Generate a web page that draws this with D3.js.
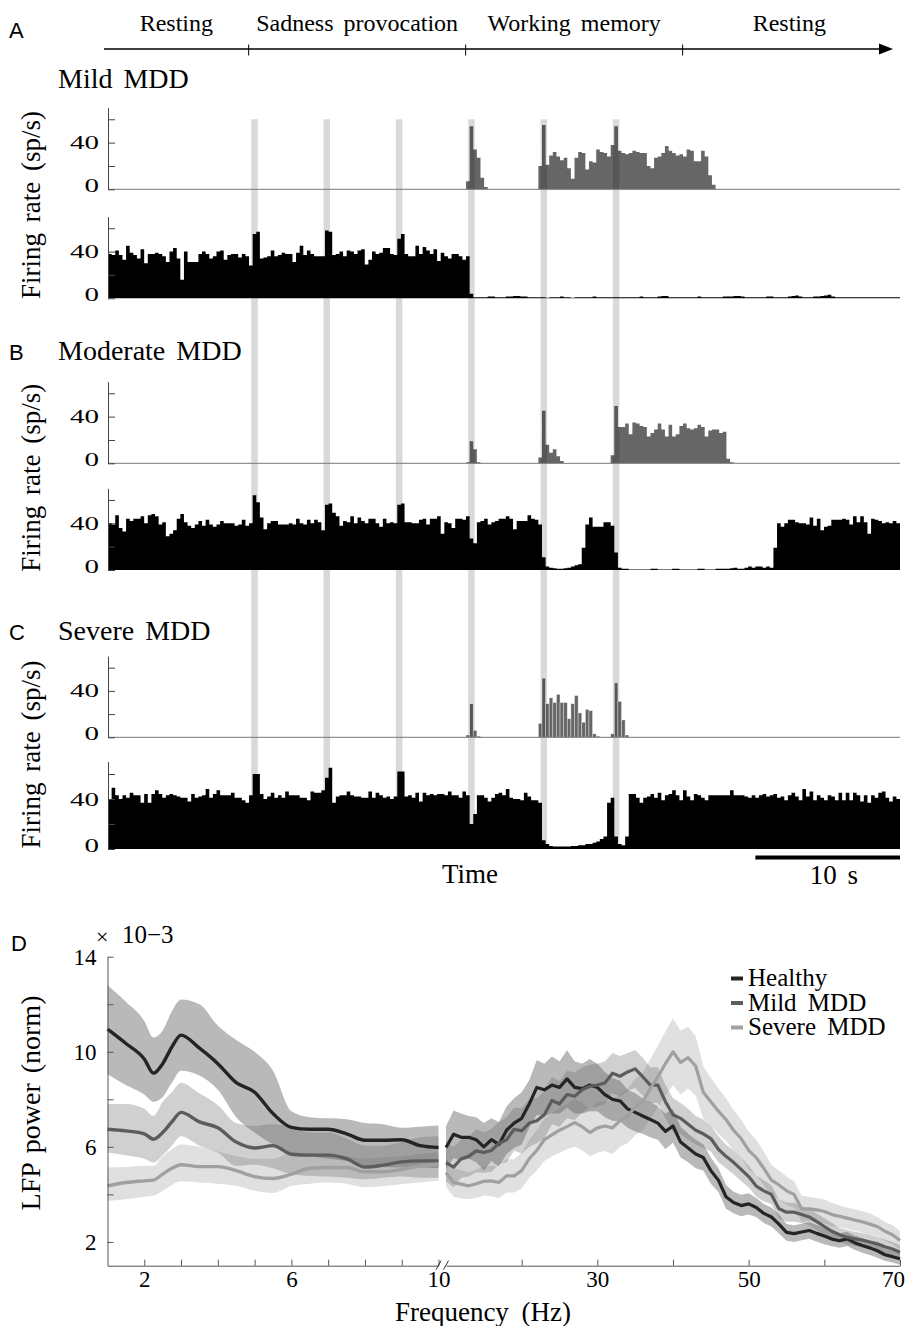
<!DOCTYPE html>
<html>
<head>
<meta charset="utf-8">
<script src="https://cdn.jsdelivr.net/npm/d3@7"></script>
<style>
html,body{margin:0;padding:0;background:#fff;}
svg{display:block;}
text{font-family:"Liberation Serif","Times New Roman",serif;fill:#000;}
</style>
</head>
<body>
<svg id="fig" width="906" height="1326"></svg>
<script>
// ---------------- firing-rate data (0.25 s bins) ----------------
const binWidth = 0.25;
const recordingEnd = 54.75;
const stimulusTimes = [10, 15, 20, 25, 30, 35];
const phaseNames = ["Resting", "Sadness provocation", "Working memory", "Resting"];
const phaseBounds = [0, 10, 25, 40, 54.75];
const panelTitles = ["Mild MDD", "Moderate MDD", "Severe MDD"];
const rateTicks = [0, 20, 40, 60];
const rateLabels = [0, 40];

const mildTaskRate = [
  0,0,0,0,0,0,0,0,0,0,0,0,0,0,0,0,0,0,0,0,
  0,0,0,0,0,0,0,0,0,0,0,0,0,0,0,0,0,0,0,0,
  0,0,0,0,0,0,0,0,0,0,0,0,0,0,0,0,0,0,0,0,
  0,0,0,0,0,0,0,0,0,0,0,0,0,0,0,0,0,0,0,0,
  0,0,0,0,0,0,0,0,0,0,0,0,0,0,0,0,0,0,0,7,
  54,34,27,10,2,0,0,0,0,0,0,0,0,0,0,0,0,0,0,20,
  55,21,29,32,28,25,27,18,9,27,32,31,17,24,23,34,32,31,28,38,
  54,33,31,30,31,33,32,31,31,20,18,27,28,31,37,33,31,29,30,28,
  34,33,24,24,33,28,12,4,0,0,0,0,0,0,0,0,0,0,0,0,
  0,0,0,0,0,0,0,0,0,0,0,0,0,0,0,0,0,0,0,0,
  0,0,0,0,0,0,0,0,0,0,0,0,0,0,0,0,0,0,0
];
const mildRestRate = [
  38,37,41,37,33,45,39,37,34,42,30,38,38,39,38,36,31,40,43,34,
  16,40,31,31,31,38,40,38,34,36,40,41,33,37,38,38,35,38,36,28,
  55,57,34,35,36,41,36,37,39,38,38,31,39,45,37,41,38,36,36,36,
  58,57,37,38,40,36,41,40,38,41,42,29,33,40,38,39,43,43,38,37,
  51,55,38,36,36,45,38,44,41,38,42,32,39,36,34,38,38,36,33,36,
  4,1,1,1,1,1.5,1.5,1,1,1,1.5,1.5,2,2,1.5,1.5,1,1,1,1,
  1,0.5,1,1,1,1.5,1,1,0.5,1,1,1,1,1,1.5,1,1,1,1,1,
  1,1,1,1,1,1,1,1.5,1,1,1,1,1.5,2,2,1,1,1,1,1,
  1,1,1,1.5,1,1,1,1,1,1,1.5,1.5,1.5,2,2,1.5,1,1,1,1,
  1,1,1.5,1.5,1,1,1,1,1.5,2,2.5,1.5,1,1,1,1.5,1.5,2,2.5,3,
  1.5,1,1,1,1,1,1,1,1,1,1,1,1,1,1,1,1,1,1
];
const moderateTaskRate = [
  0,0,0,0,0,0,0,0,0,0,0,0,0,0,0,0,0,0,0,0,
  0,0,0,0,0,0,0,0,0,0,0,0,0,0,0,0,0,0,0,0,
  0,0,0,0,0,0,0,0,0,0,0,0,0,0,0,0,0,0,0,0,
  0,0,0,0,0,0,0,0,0,0,0,0,0,0,0,0,0,0,0,0,
  0,0,0,0,0,0,0,0,0,0,0,0,0,0,0,0,0,0,0,1,
  19,12,1,0,0,0,0,0,0,0,0,0,0,0,0,0,0,0,0,5,
  45,16,9,12,6,2,0,0,0,0,0,0,0,0,0,0,0,0,0,7,
  49,31,31,34,25,35,34,32,31,23,26,29,34,29,23,33,23,25,32,34,
  30,29,30,33,31,23,28,29,29,26,27,4,1,0,0,0,0,0,0,0,
  0,0,0,0,0,0,0,0,0,0,0,0,0,0,0,0,0,0,0,0,
  0,0,0,0,0,0,0,0,0,0,0,0,0,0,0,0,0,0,0
];
const moderateRestRate = [
  40,39,47,36,33,44,42,44,44,46,40,47,48,46,39,41,29,31,34,44,
  48,41,38,36,39,42,38,43,39,37,39,42,40,40,40,38,39,43,38,40,
  64,58,45,35,40,42,42,39,39,39,40,39,44,40,39,43,40,43,41,34,
  56,57,49,46,38,42,41,46,40,45,42,40,44,44,40,37,44,40,41,40,
  56,57,41,41,40,40,43,44,39,44,44,46,31,41,40,36,44,44,43,46,
  27,23,41,42,44,39,41,42,44,44,46,44,35,42,42,42,47,44,43,39,
  11,3,2,1.5,1,1,1.5,2,3,4,5,19,39,45,37,37,37,41,41,38,
  15,2,1,1,0.5,0.5,0.5,0.5,0.5,0.5,1,1,0.5,0.5,0.5,0.5,1,1,0.5,0.5,
  0.5,0.5,0.5,1,1,0.5,0.5,0.5,1,1,1,1,1.5,2,1,1,2,3,2,3,
  3,2,3,2,19,40,37,40,43,43,41,40,40,39,45,38,44,34,37,38,
  43,43,43,44,43,39,46,41,46,41,31,44,43,42,40,41,40,42,40
];
const severeTaskRate = [
  0,0,0,0,0,0,0,0,0,0,0,0,0,0,0,0,0,0,0,0,
  0,0,0,0,0,0,0,0,0,0,0,0,0,0,0,0,0,0,0,0,
  0,0,0,0,0,0,0,0,0,0,0,0,0,0,0,0,0,0,0,0,
  0,0,0,0,0,0,0,0,0,0,0,0,0,0,0,0,0,0,0,0,
  0,0,0,0,0,0,0,0,0,0,0,0,0,0,0,0,0,0,0,2,
  29,6,1,0,0,0,0,0,0,0,0,0,0,0,0,0,0,0,0,12,
  51,29,34,30,37,30,30,16,29,36,21,13,24,23,3,1,0,0,0,3,
  47,31,15,2,0,0,0,0,0,0,0,0,0,0,0,0,0,0,0,0,
  0,0,0,0,0,0,0,0,0,0,0,0,0,0,0,0,0,0,0,0,
  0,0,0,0,0,0,0,0,0,0,0,0,0,0,0,0,0,0,0,0,
  0,0,0,0,0,0,0,0,0,0,0,0,0,0,0,0,0,0,0
];
const severeRestRate = [
  40,49,43,40,43,41,45,43,43,37,44,37,44,47,44,41,43,44,43,42,
  41,41,38,44,41,42,43,48,41,44,47,43,43,43,45,41,41,39,37,43,
  60,60,44,40,42,45,41,43,41,46,43,43,43,41,41,39,46,45,45,47,
  57,65,37,42,43,43,46,43,42,42,41,41,46,41,45,43,41,42,40,42,
  62,62,42,43,41,45,38,45,43,44,43,44,44,43,46,43,43,41,46,43,
  20,28,43,43,41,38,41,44,45,43,48,41,40,40,39,45,42,39,39,37,
  7,4,2.5,2,2,2,2,2,2.5,2.5,3,3,4,4,5,6,8,10,37,41,
  10,4,3,10,44,44,41,37,41,42,44,41,45,39,43,44,47,43,39,47,
  42,39,44,43,41,39,43,43,43,43,43,43,47,43,43,43,42,41,43,41,
  43,44,42,43,44,41,42,39,43,45,42,39,48,42,46,39,43,41,39,43,
  42,39,45,39,45,39,45,43,38,43,37,43,41,45,46,41,38,42,40
];

// ---------------- LFP spectra (x 10^-3) ----------------
const groupNames = ["Healthy", "Mild MDD", "Severe MDD"];
const freqLow = [1,1.5,2,2.25,2.5,2.75,3,3.5,4,4.5,5,5.5,6,6.5,7,7.5,8,8.5,9,9.5,10];
const healthyLowMean  = [10.95,10.35,9.7,9.1,9.5,10.2,10.7,10.15,9.5,8.7,8.3,7.4,6.82,6.74,6.74,6.55,6.28,6.28,6.3,6.05,5.97];
const healthyLowUpper = [12.8,12.1,11.3,10.6,10.9,11.7,12.2,12.0,11.1,10.5,10.0,9.2,7.5,7.25,7.2,7.16,7.0,6.95,6.8,6.85,6.9];
const healthyLowLower = [9.05,8.6,8.2,7.9,8.1,8.7,9.2,9.0,8.4,7.25,6.6,6.1,5.75,5.6,5.5,5.4,5.2,5.15,5.13,5.13,5.1];
const mildLowMean  = [6.74,6.67,6.55,6.32,6.6,7.05,7.45,7.05,6.8,6.2,5.95,6.05,5.69,5.65,5.65,5.5,5.15,5.23,5.37,5.41,5.41];
const mildLowUpper = [7.8,7.8,7.6,7.3,7.9,8.3,8.7,8.25,7.75,7.0,6.88,6.95,6.85,6.6,6.6,6.35,6.05,6.05,6.2,6.4,6.45];
const mildLowLower = [5.76,5.65,5.5,5.34,5.65,6.05,6.45,6.05,5.76,5.2,5.25,5.1,4.85,4.78,4.75,4.7,4.64,4.7,4.75,4.7,4.7];
const severeLowMean  = [4.36,4.5,4.57,4.6,4.85,5.1,5.25,5.17,5.17,5.0,4.75,4.67,4.85,5.1,5.13,5.13,4.95,4.95,5.05,5.2,5.27];
const severeLowUpper = [5.13,5.15,5.2,5.2,5.6,5.9,6.1,6.0,5.8,5.62,5.5,5.5,5.75,5.72,5.69,5.6,5.5,5.55,5.6,5.7,5.76];
const severeLowLower = [3.73,3.8,3.9,3.94,4.15,4.4,4.55,4.5,4.45,4.36,4.15,4.06,4.35,4.45,4.5,4.45,4.3,4.35,4.43,4.5,4.57];

const freqHigh = [10,11,12,13,14,15,16,17,18,19,20,21,22,23,24,25,26,27,28,29,30,31,32,33,34,35,36,37,38,39,40,
  41,42,43,44,45,46,47,48,49,50,51,52,53,54,55,56,57,58,59,60,61,62,63,64,65,66,67,68,69,70];
const healthyHighMean = [5.97,6.53,6.4,6.4,6.3,6.0,6.3,6.1,6.7,7.0,
  7.2,7.8,8.5,8.4,8.6,8.5,8.86,8.5,8.45,8.6,
  8.5,8.2,8.0,7.93,7.6,7.45,7.3,7.15,7.0,6.65,
  6.88,6.2,5.95,5.7,5.55,5.0,4.6,3.9,3.66,3.53,
  3.6,3.45,3.2,3.05,2.75,2.4,2.35,2.42,2.48,2.36,
  2.25,2.12,2.05,2.13,1.97,1.85,1.75,1.63,1.46,1.38,1.29];
const healthyHighSpread = [0.9,1.0,1.0,0.9,0.95,1.0,0.9,0.95,1.0,1.05,
  1.1,1.0,1.15,1.1,1.2,1.1,1.2,1.1,1.05,1.1,
  1.0,0.95,0.9,0.85,0.8,0.8,0.75,0.75,0.7,0.75,
  0.7,0.65,0.6,0.6,0.55,0.55,0.5,0.5,0.45,0.45,
  0.45,0.4,0.4,0.4,0.4,0.35,0.35,0.35,0.35,0.35,
  0.35,0.3,0.3,0.3,0.3,0.3,0.3,0.3,0.25,0.25,0.25];
const mildHighMean = [5.34,5.15,5.5,5.6,5.83,5.76,5.85,6.15,6.3,6.74,
  6.67,7.0,7.1,7.35,7.95,7.8,8.2,8.13,8.4,8.55,
  8.6,8.69,9.1,8.97,9.15,9.28,8.95,8.6,8.6,7.9,
  7.35,7.2,6.95,6.7,6.55,6.35,5.9,5.6,5.35,5.05,
  4.75,4.35,4.15,4.0,3.4,3.25,3.25,3.15,3.05,2.85,
  2.65,2.45,2.3,2.2,2.13,2.08,2.0,1.92,1.8,1.7,1.57];
const mildHighSpread = [0.8,0.85,0.8,0.85,0.9,0.85,0.9,0.9,0.95,0.9,
  0.95,1.0,0.95,1.0,1.0,0.95,1.0,1.0,0.95,0.9,
  0.9,0.9,0.85,0.85,0.8,0.8,0.8,0.75,0.75,0.7,
  0.7,0.65,0.65,0.6,0.6,0.55,0.55,0.5,0.5,0.5,
  0.45,0.45,0.45,0.4,0.4,0.4,0.4,0.35,0.35,0.35,
  0.35,0.35,0.3,0.3,0.3,0.3,0.3,0.3,0.3,0.3,0.3];
const severeHighMean = [4.92,4.5,4.43,4.36,4.45,4.55,4.57,4.5,4.78,4.78,
  5.0,5.5,5.85,6.3,6.5,6.7,6.85,7.02,6.85,6.6,
  6.8,6.88,6.8,7.1,7.3,7.68,7.9,8.45,8.95,9.5,
  10.0,9.55,9.75,9.4,8.3,7.9,7.5,7.15,6.7,6.35,
  5.85,5.55,5.1,4.6,4.4,4.15,4.0,3.4,3.39,3.35,
  3.28,3.15,3.08,3.0,2.92,2.85,2.75,2.65,2.45,2.3,2.06];
const severeHighSpread = [0.6,0.6,0.6,0.55,0.6,0.6,0.65,0.65,0.7,0.7,
  0.75,0.8,0.85,0.9,0.9,0.95,0.95,1.0,1.0,1.0,
  1.05,1.05,1.1,1.1,1.15,1.2,1.2,1.25,1.3,1.35,
  1.4,1.35,1.3,1.25,1.1,1.0,0.95,0.9,0.85,0.8,
  0.8,0.75,0.7,0.65,0.6,0.6,0.55,0.55,0.5,0.5,
  0.5,0.5,0.45,0.45,0.45,0.45,0.45,0.4,0.4,0.4,0.4];
const powerTicks = [2, 4, 6, 8, 10, 12, 14];
const powerLabels = [2, 6, 10, 14];
const freqLowTicks = [2, 3, 4, 5, 6, 7, 8, 9, 10];
const freqLowLabels = [2, 6, 10];
const freqHighTicks = [20, 30, 40, 50, 60, 70];
const freqHighLabels = [30, 50, 70];

// ---------------- drawing ----------------
const SERIF = "'Liberation Serif', 'Times New Roman', serif";
const SANS = "'Liberation Sans', Arial, sans-serif";
const svg = d3.select("#fig");

// time axis shared by the three raster panels
const x = d3.scaleLinear().domain([0, recordingEnd]).range([108, 900]);
const xPhase = d3.scaleLinear().domain([0, recordingEnd]).range([104, 896]);

// task-phase timeline arrow
const tl = svg.append("g");
tl.append("line").attr("x1", xPhase(0)).attr("x2", 882).attr("y1", 49).attr("y2", 49)
  .attr("stroke", "#000").attr("stroke-width", 1.6);
tl.append("path").attr("d", "M879,43.5 L893,49 L879,54.5 Z").attr("fill", "#000");
tl.selectAll("line.bound").data(phaseBounds.slice(1, -1)).join("line").attr("class", "bound")
  .attr("x1", d => xPhase(d)).attr("x2", d => xPhase(d)).attr("y1", 44.5).attr("y2", 55.5)
  .attr("stroke", "#000").attr("stroke-width", 1);
tl.selectAll("text").data(phaseNames).join("text")
  .attr("x", (d, i) => xPhase((phaseBounds[i] + phaseBounds[i + 1]) / 2))
  .attr("y", 31).attr("text-anchor", "middle").attr("font-size", 24)
  .style("word-spacing", "4px").text(d => d);

const panels = [
  { letter: "A", letterY: 38, title: panelTitles[0], titleY: 88, task: mildTaskRate, rest: mildRestRate,
    taskBase: 189.3, taskUnit: 1.167, restBase: 298.3, restUnit: 1.167, outlined: false },
  { letter: "B", letterY: 360, title: panelTitles[1], titleY: 360, task: moderateTaskRate, rest: moderateRestRate,
    taskBase: 463.3, taskUnit: 1.167, restBase: 570, restUnit: 1.167, outlined: false },
  { letter: "C", letterY: 640, title: panelTitles[2], titleY: 640, task: severeTaskRate, rest: severeRestRate,
    taskBase: 737.3, taskUnit: 1.16, restBase: 849, restUnit: 1.25, outlined: true }
];
const rateMax = 70;
panels.forEach(p => {
  p.yTask = d3.scaleLinear().domain([0, rateMax]).range([p.taskBase, p.taskBase - rateMax * p.taskUnit]);
  p.yRest = d3.scaleLinear().domain([0, rateMax]).range([p.restBase, p.restBase - rateMax * p.restUnit]);
});

// stimulus markers spanning all raster panels
const bandTop = panels[0].yTask(60);
const bandBottom = panels[2].yRest(0);
svg.append("g").selectAll("rect").data(stimulusTimes).join("rect")
  .attr("x", d => x(d - 0.1)).attr("width", x(0.45) - x(0))
  .attr("y", bandTop).attr("height", bandBottom - bandTop)
  .attr("fill", "#d9d9d9");

function binPoints(values) {
  const pts = values.map((v, i) => [i * binWidth, v]);
  pts.push([values.length * binWidth, values[values.length - 1]]);
  return pts;
}
function stepArea(y) {
  return d3.area().curve(d3.curveStepAfter).x(d => x(d[0])).y0(y(0)).y1(d => y(d[1]));
}
function rateAxis(g, y) {
  g.call(d3.axisLeft(y).tickValues(rateTicks).tickSize(-7).tickSizeOuter(0).tickPadding(9)
    .tickFormat(d => rateLabels.includes(d) ? d : ""));
  g.attr("font-family", null).attr("font-size", null);
  g.select(".domain").attr("stroke", "#444");
  g.selectAll(".tick line").attr("stroke", "#444");
  const lab = g.selectAll(".tick text").filter(d => rateLabels.includes(d));
  lab.style("font-family", SERIF).attr("font-size", 19)
     .attr("textLength", d => String(d).length * 14.5)
     .attr("lengthAdjust", "spacingAndGlyphs").attr("fill", "#000");
  lab.filter(d => d === 0).attr("y", -4);
}

panels.forEach(p => {
  const g = svg.append("g");
  g.append("text").attr("x", 9).attr("y", p.letterY).attr("font-size", 22)
    .style("font-family", SANS).text(p.letter);
  g.append("text").attr("x", 58).attr("y", p.titleY).attr("font-size", 28)
    .style("word-spacing", "4px").text(p.title);

  // task-responsive unit (grey)
  if (p.outlined) {
    g.append("g").selectAll("rect").data(p.task.map((v, i) => [i, v]).filter(d => d[1] > 0)).join("rect")
      .attr("x", d => x(d[0] * binWidth)).attr("width", x(binWidth) - x(0))
      .attr("y", d => p.yTask(d[1])).attr("height", d => p.yTask(0) - p.yTask(d[1]))
      .attr("fill", "#000").attr("fill-opacity", 0.6)
      .attr("stroke", "#fff").attr("stroke-opacity", 0.55).attr("stroke-width", 0.7);
  } else {
    g.append("path").attr("d", stepArea(p.yTask)(binPoints(p.task)))
      .attr("fill", "#000").attr("fill-opacity", 0.6);
  }
  g.append("line").attr("x1", x(0)).attr("x2", x(recordingEnd))
    .attr("y1", p.yTask(0)).attr("y2", p.yTask(0)).attr("stroke", "#777").attr("stroke-width", 1);

  // resting-state unit (black)
  g.append("path").attr("d", stepArea(p.yRest)(binPoints(p.rest))).attr("fill", "#000");

  rateAxis(g.append("g").attr("transform", `translate(${x(0)},0)`), p.yTask);
  rateAxis(g.append("g").attr("transform", `translate(${x(0)},0)`), p.yRest);

  g.append("text")
    .attr("transform", `translate(40,${(p.yTask(rateMax) + p.restBase) / 2 + 2}) rotate(-90)`)
    .attr("text-anchor", "middle").attr("font-size", 27).style("word-spacing", "4px")
    .text("Firing rate (sp/s)");
});

// time label and 10 s scale bar
svg.append("text").attr("x", 442).attr("y", 883).attr("font-size", 27).text("Time");
svg.append("rect").attr("x", x(recordingEnd - 10)).attr("width", x(10) - x(0))
  .attr("y", 855.5).attr("height", 4).attr("fill", "#000");
svg.append("text").attr("x", 834).attr("y", 884).attr("text-anchor", "middle")
  .attr("font-size", 27).style("word-spacing", "4px").text("10 s");

// ---------------- panel D: LFP power spectra ----------------
const yP = d3.scaleLinear().domain([1, 14]).range([1265.7, 956.7]);
const xLo = d3.scaleLinear().domain([1, 10]).range([107.5, 438.5]);
const xHi = d3.scaleLinear().domain([10, 70]).range([446, 900]);

const groups = [
  { name: groupNames[0], lm: healthyLowMean, lu: healthyLowUpper, ll: healthyLowLower,
    hm: healthyHighMean, hs: healthyHighSpread, line: "#242424", band: "rgba(100,100,100,0.45)" },
  { name: groupNames[1], lm: mildLowMean, lu: mildLowUpper, ll: mildLowLower,
    hm: mildHighMean, hs: mildHighSpread, line: "#5c5c5c", band: "rgba(100,100,100,0.30)" },
  { name: groupNames[2], lm: severeLowMean, lu: severeLowUpper, ll: severeLowLower,
    hm: severeHighMean, hs: severeHighSpread, line: "#a0a0a0", band: "rgba(100,100,100,0.20)" }
];

const gD = svg.append("g");
const lowArea = d3.area().curve(d3.curveMonotoneX);
const lowLine = d3.line().curve(d3.curveMonotoneX);
const highArea = d3.area();
const highLine = d3.line();

groups.forEach(gr => {
  gD.append("path").attr("fill", gr.band).attr("d",
    lowArea.x((d, i) => xLo(freqLow[i])).y0((d, i) => yP(gr.ll[i])).y1((d, i) => yP(gr.lu[i]))(freqLow));
  gD.append("path").attr("fill", gr.band).attr("d",
    highArea.x((d, i) => xHi(freqHigh[i])).y0((d, i) => yP(gr.hm[i] - gr.hs[i])).y1((d, i) => yP(gr.hm[i] + gr.hs[i]))(freqHigh));
});
groups.forEach(gr => {
  gD.append("path").attr("fill", "none").attr("stroke", gr.line).attr("stroke-width", 3.4)
    .attr("stroke-linejoin", "round")
    .attr("d", lowLine.x((d, i) => xLo(freqLow[i])).y((d, i) => yP(gr.lm[i]))(freqLow));
  gD.append("path").attr("fill", "none").attr("stroke", gr.line).attr("stroke-width", 3.2)
    .attr("stroke-linejoin", "round")
    .attr("d", highLine.x((d, i) => xHi(freqHigh[i])).y((d, i) => yP(gr.hm[i]))(freqHigh));
});

function styleAxis(g, fontSize) {
  g.attr("font-family", null).attr("font-size", null);
  g.select(".domain").attr("stroke", "#555");
  g.selectAll(".tick line").attr("stroke", "#555");
  g.selectAll(".tick text").style("font-family", SERIF).attr("font-size", fontSize).attr("fill", "#000");
}
const yAxisG = gD.append("g").attr("transform", `translate(${xLo(1)},0)`)
  .call(d3.axisLeft(yP).tickValues(powerTicks).tickSize(-6).tickSizeOuter(0).tickPadding(11)
    .tickFormat(d => powerLabels.includes(d) ? d : ""));
styleAxis(yAxisG, 23);
const xLoG = gD.append("g").attr("transform", `translate(0,${yP(1)})`)
  .call(d3.axisBottom(xLo).tickValues(freqLowTicks).tickSize(-6).tickSizeOuter(0).tickPadding(5)
    .tickFormat(d => freqLowLabels.includes(d) ? d : ""));
styleAxis(xLoG, 23);
const xHiG = gD.append("g").attr("transform", `translate(0,${yP(1)})`)
  .call(d3.axisBottom(xHi).tickValues(freqHighTicks).tickSize(-6).tickSizeOuter(0).tickPadding(5)
    .tickFormat(d => freqHighLabels.includes(d) ? d : ""));
styleAxis(xHiG, 23);
xHiG.selectAll(".tick text").filter(d => d === 70).attr("x", -7);

// axis break marks
[xLo(10), xHi(10)].forEach(bx => {
  gD.append("line").attr("x1", bx - 2.5).attr("y1", yP(1) + 4).attr("x2", bx + 2.5).attr("y2", yP(1) - 5)
    .attr("stroke", "#333").attr("stroke-width", 1);
});

// exponent
gD.append("text").attr("x", 96).attr("y", 944).attr("font-size", 22).text("\u00d7");
gD.append("text").attr("x", 122).attr("y", 943).attr("font-size", 25).text("10\u22123");
gD.append("text").attr("x", 11).attr("y", 951).attr("font-size", 22)
  .style("font-family", SANS).text("D");

gD.append("text").attr("transform", "translate(40,1103) rotate(-90)").attr("text-anchor", "middle")
  .attr("font-size", 28).style("word-spacing", "3px").text("LFP power (norm)");
gD.append("text").attr("x", 483).attr("y", 1321).attr("text-anchor", "middle")
  .attr("font-size", 27).style("word-spacing", "6px").text("Frequency (Hz)");

// legend
const leg = gD.append("g");
groups.forEach((gr, i) => {
  const ly = 978.5 + i * 24.5;
  leg.append("line").attr("x1", 731).attr("x2", 743).attr("y1", ly).attr("y2", ly)
    .attr("stroke", gr.line).attr("stroke-width", 4);
  leg.append("text").attr("x", 748).attr("y", ly + 7.5).attr("font-size", 25)
    .style("word-spacing", "5px").text(gr.name);
});
</script>
</body>
</html>
